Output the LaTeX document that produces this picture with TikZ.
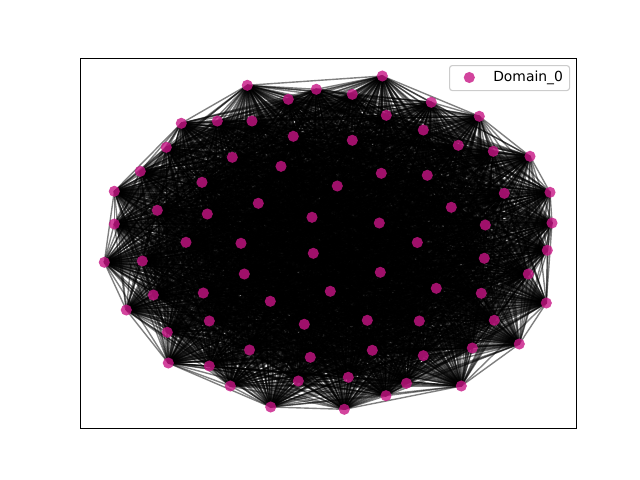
\documentclass[tikz,border=0pt]{standalone}
\usepackage{fontspec}
\setmainfont{DejaVu Sans}
\definecolor{nodecol}{HTML}{C71585}
\definecolor{legframe}{gray}{0.8}
\pgfdeclarelayer{bg}
\pgfsetlayers{bg,main}
\tikzset{
  dot/.style={circle, inner sep=0pt, minimum size=8pt, fill=nodecol, fill opacity=0.8, draw=none},
  edge/.style={draw=black, draw opacity=0.5, line width=1pt},
  frame/.style={draw=black, line width=0.8pt},
  legbox/.style={draw=legframe, fill=white, fill opacity=0.8, draw opacity=1, line width=0.8pt, rounded corners=2pt},
  legtext/.style={anchor=west, inner sep=0pt, font=\fontsize{10}{12}\selectfont}
}
\begin{document}
\begin{tikzpicture}[x=0.72pt, y=-0.72pt]
\useasboundingbox (0,0) rectangle (640,480);
\foreach \x/\y [count=\k] in {
247.3/85.3, 181.3/123.3, 217.3/121, 252/121, 166.3/147.3, 232.3/157.3, 140.3/171.3, 202/182.3,
114.3/191.3, 157.3/210.3, 207.3/214, 114.3/224, 258.3/203.3, 186/242.3, 241/243.3, 288.3/99.3,
316.3/89.3, 352.3/94.3, 382.3/76, 386.3/115.3, 293.3/136.3, 352.3/140.3, 281/166.3, 381.3/173.3,
337.3/186, 312/217.3, 379.3/223, 431.3/102.3, 479.3/116.3, 423.3/130, 458.3/145.3, 493.3/151.3,
530/156.3, 427.3/175.3, 504.3/193.3, 550/192.3, 451.3/207.3, 485.3/225, 552/223, 417.3/242.5,
104.3/262.3, 142.3/261, 244.3/274, 153.3/295, 203.3/293, 126.3/310, 209.3/321, 167.3/332.3,
249.5/350, 168.3/363, 209.3/366, 230.3/386, 313.3/253.3, 380.3/272.3, 330.3/291.3, 270.3/301.3,
304.3/324.3, 367.3/320.3, 310.3/357.3, 372.3/350.3, 298.3/381, 348.3/377.3, 406.5/383.3, 386/395.7,
270.7/407, 344.3/409.3, 547.3/250.3, 484.3/258.3, 528.3/274, 436.3/288.3, 481.3/293.3, 546.3/303,
419.3/321, 494.3/320.3, 519.3/344, 472.3/348, 423.3/355.7, 461.3/386}
  {\node[dot] (n\k) at (\x,\y) {};}
\begin{pgfonlayer}{bg}
\foreach \i in {1,...,77} {
  \pgfmathtruncatemacro{\s}{\i+1}
  \foreach \j in {\s,...,78} {
    \draw[edge] (n\i.center) -- (n\j.center);
  }
}
\end{pgfonlayer}
\node[frame, draw, inner sep=0pt, minimum width=496*0.72pt, minimum height=370*0.72pt, anchor=north west] (axes) at (80,58) {};
\node[legbox, inner sep=0pt, minimum width=120*0.72pt, minimum height=25*0.72pt, anchor=north west] (legend) at (449,65) {};
\node[dot] (legmark) at (469.3,77.5) {};
\node[legtext] (legname) at (493,77.5) {Domain\_0};
\end{tikzpicture}
\end{document}
